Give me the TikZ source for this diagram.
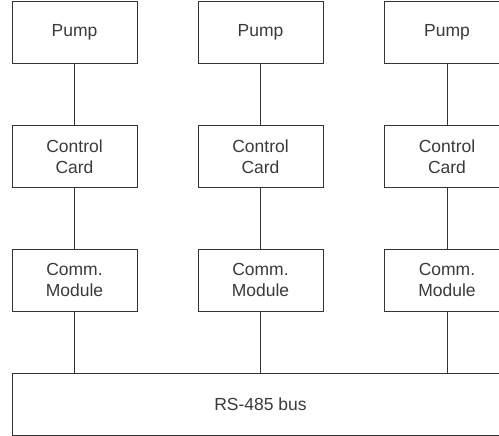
\documentclass[tikz,border=0pt]{standalone}
\usepackage{fontspec}
\setmainfont{Liberation Sans}
\usetikzlibrary{positioning}
\definecolor{linegray}{HTML}{333333}
\definecolor{textgray}{HTML}{3A3A3A}
\tikzset{
  unitbox/.style={draw=linegray,line width=1pt,minimum width=125pt,minimum height=62pt,
    align=center,text=textgray,font=\fontsize{17.5}{21}\selectfont,inner sep=0pt},
  wire/.style={draw=linegray,line width=1pt}
}
\begin{document}
\begin{tikzpicture}[x=1pt,y=-1pt]
\useasboundingbox (0,0) rectangle (499,436);
\node[unitbox] (pumpA) at (74.5,32.5) {Pump};
\node[unitbox] (pumpB) at (260.5,32.5) {Pump};
\node[unitbox] (pumpC) at (447,32.5) {Pump};
\node[unitbox] (cardA) at (74.5,156.5) {Control\\Card};
\node[unitbox] (cardB) at (260.5,156.5) {Control\\Card};
\node[unitbox] (cardC) at (447,156.5) {Control\\Card};
\node[unitbox] (commA) at (74.5,280) {Comm.\\Module};
\node[unitbox] (commB) at (260.5,280) {Comm.\\Module};
\node[unitbox] (commC) at (447,280) {Comm.\\Module};
\node[unitbox,minimum width=497pt] (bus) at (260.5,404) {RS-485 bus};
\draw[wire] (pumpA) -- (cardA);
\draw[wire] (pumpB) -- (cardB);
\draw[wire] (pumpC) -- (cardC);
\draw[wire] (cardA) -- (commA);
\draw[wire] (cardB) -- (commB);
\draw[wire] (cardC) -- (commC);
\draw[wire] (commA.south) -- (commA.south |- bus.north);
\draw[wire] (commB.south) -- (commB.south |- bus.north);
\draw[wire] (commC.south) -- (commC.south |- bus.north);
\end{tikzpicture}
\end{document}
